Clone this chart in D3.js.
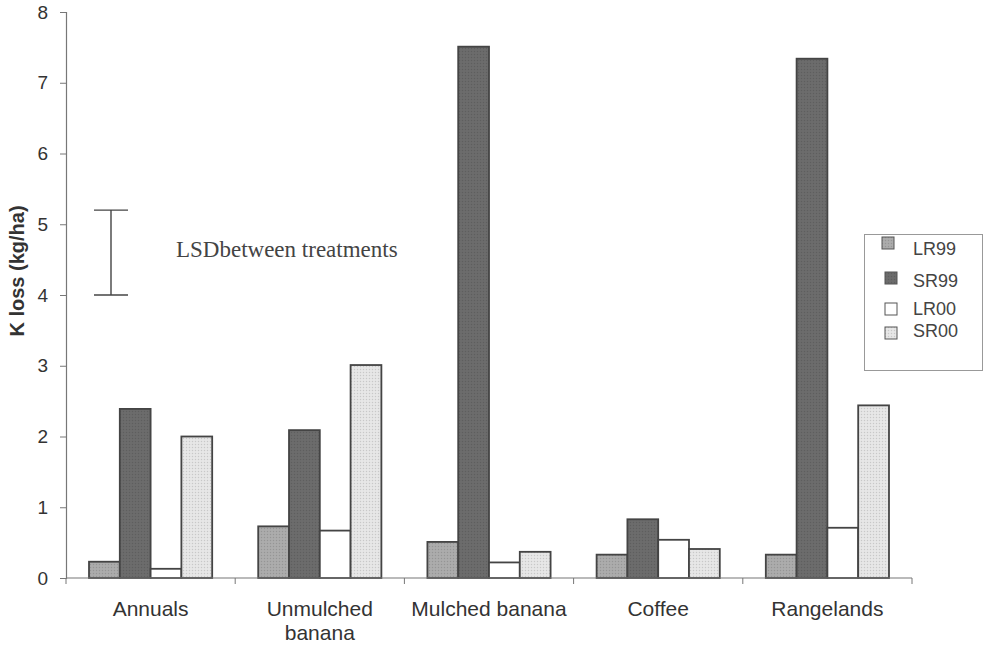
<!DOCTYPE html>
<html><head><meta charset="utf-8">
<script src="https://cdn.jsdelivr.net/npm/d3@7"></script>
<style>body{margin:0;background:#fff;} svg{display:block;}</style>
</head><body>
<svg id="chart" width="984" height="645"></svg>
<script>
const categories = [["Annuals"], ["Unmulched", "banana"], ["Mulched banana"], ["Coffee"], ["Rangelands"]];
const seriesNames = ["LR99", "SR99", "LR00", "SR00"];
const LR99 = [0.23, 0.73, 0.51, 0.33, 0.33];
const SR99 = [2.39, 2.09, 7.51, 0.83, 7.34];
const LR00 = [0.13, 0.67, 0.22, 0.54, 0.71];
const SR00 = [2.0, 3.01, 0.37, 0.41, 2.44];
const yTicks = [0, 1, 2, 3, 4, 5, 6, 7, 8];
const lsd = [4.0, 5.2];
const lsdLabel = "LSDbetween treatments";
const yTitle = "K loss (kg/ha)";

const seriesValues = [LR99, SR99, LR00, SR00];
const fills = ["#a9a9a9", "#6a6a6a", "#ffffff", "#e3e3e3"];

const svg = d3.select("#chart");
const m = {left: 66, right: 72, top: 12, bottom: 67};
const W = 984, H = 645;
const sans = "Liberation Sans, Arial, sans-serif";

const catKeys = categories.map((c, i) => i);
const x0 = d3.scaleBand().domain(catKeys).range([m.left, W - m.right]).paddingInner(0).paddingOuter(0);
const y = d3.scaleLinear().domain([0, 8]).range([H - m.bottom, m.top]);
const inner = x0.bandwidth() * 0.136;
const x1 = d3.scaleBand().domain(seriesNames).range([inner, x0.bandwidth() - inner]).padding(0);

// patterns (stipple texture)
const defs = svg.append("defs");
fills.forEach((f, i) => {
  const p = defs.append("pattern").attr("id", "pat" + i).attr("width", 3).attr("height", 3).attr("patternUnits", "userSpaceOnUse");
  p.append("rect").attr("width", 3).attr("height", 3).attr("fill", f);
  if (i !== 2) {
    p.append("rect").attr("x", 0).attr("y", 0).attr("width", 1).attr("height", 1).attr("fill", d3.color(f).darker(0.35));
    p.append("rect").attr("x", 1.5).attr("y", 1.5).attr("width", 1).attr("height", 1).attr("fill", d3.color(f).brighter(0.2));
  }
});

// bars
const g = svg.append("g");
catKeys.forEach(ci => {
  seriesNames.forEach((s, si) => {
    const v = seriesValues[si][ci];
    g.append("rect")
      .attr("x", x0(ci) + x1(s))
      .attr("y", y(v))
      .attr("width", x1.bandwidth())
      .attr("height", y(0) - y(v))
      .attr("fill", "url(#pat" + si + ")")
      .attr("stroke", "#444")
      .attr("stroke-width", 1.8);
  });
});

// y axis
const yAxis = d3.axisLeft(y).tickValues(yTicks).tickSize(6).tickPadding(12).tickFormat(d3.format("d"));
const ya = svg.append("g").attr("transform", `translate(${m.left},0)`).call(yAxis);
ya.select(".domain").attr("stroke", "#777").attr("stroke-width", 1.2);
ya.selectAll(".tick line").attr("stroke", "#777");
ya.selectAll(".tick text").attr("font-family", sans).attr("font-size", 19).attr("fill", "#333");

// x axis
const xa = svg.append("g").attr("transform", `translate(0,${y(0)})`);
xa.append("line").attr("x1", m.left).attr("x2", W - m.right).attr("y1", 0).attr("y2", 0).attr("stroke", "#777").attr("stroke-width", 1.2);
const bounds = catKeys.map(ci => x0(ci)).concat([x0(catKeys[catKeys.length - 1]) + x0.bandwidth()]);
xa.selectAll("line.tk").data(bounds).enter().append("line").attr("class", "tk")
  .attr("x1", d => d).attr("x2", d => d).attr("y1", 0).attr("y2", 6).attr("stroke", "#777");
categories.forEach((lines, ci) => {
  const cx = x0(ci) + x0.bandwidth() / 2;
  const t = xa.append("text").attr("x", cx).attr("y", 38)
    .attr("text-anchor", "middle").attr("font-family", sans)
    .attr("font-size", 21).attr("fill", "#333");
  lines.forEach((l, li) => t.append("tspan").attr("x", cx).attr("dy", li === 0 ? 0 : 24).text(l));
});

// y title
svg.append("text").attr("transform", `translate(24,271) rotate(-90)`)
  .attr("text-anchor", "middle").attr("font-family", sans)
  .attr("font-size", 20).attr("font-weight", "bold").attr("fill", "#333").text(yTitle);

// LSD bar
const lx = 111;
const lg = svg.append("g").attr("stroke", "#444").attr("stroke-width", 1.4);
lg.append("line").attr("x1", lx).attr("x2", lx).attr("y1", y(lsd[1])).attr("y2", y(lsd[0]));
lg.append("line").attr("x1", lx - 17).attr("x2", lx + 17).attr("y1", y(lsd[1])).attr("y2", y(lsd[1]));
lg.append("line").attr("x1", lx - 17).attr("x2", lx + 17).attr("y1", y(lsd[0])).attr("y2", y(lsd[0]));
svg.append("text").attr("x", 176).attr("y", 257).attr("font-family", "Liberation Serif, Times New Roman, serif")
  .attr("font-size", 23).attr("fill", "#444").text(lsdLabel);

// legend
const leg = svg.append("g");
leg.append("rect").attr("x", 864.5).attr("y", 234.5).attr("width", 118).attr("height", 136)
  .attr("fill", "#fff").attr("stroke", "#999");
const legSwY = [237, 272, 303, 327];
const legTxY = [255, 287, 315, 337];
const legSwX = [882, 885, 885, 885];
seriesNames.forEach((s, i) => {
  leg.append("rect").attr("x", legSwX[i]).attr("y", legSwY[i]).attr("width", 12).attr("height", 12)
    .attr("fill", "url(#pat" + i + ")").attr("stroke", "#555").attr("stroke-width", 1);
  leg.append("text").attr("x", 913).attr("y", legTxY[i]).attr("font-family", sans)
    .attr("font-size", 18).attr("fill", "#444").text(s);
});
</script>
</body></html>
